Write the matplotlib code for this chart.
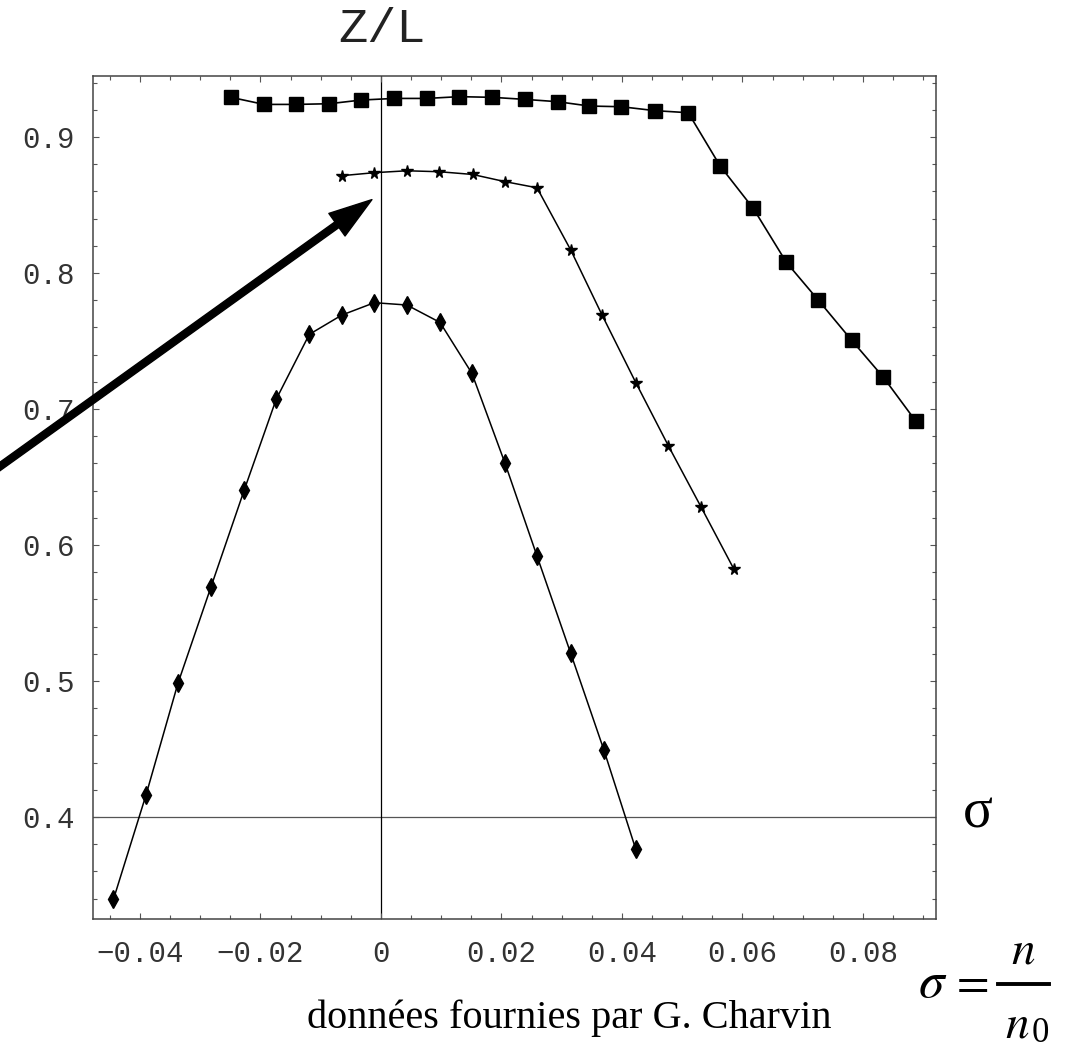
import matplotlib
matplotlib.use("Agg")
import matplotlib.pyplot as plt
from matplotlib.lines import Line2D
from matplotlib.ticker import MultipleLocator

# top series (squares)
sq_x = [-0.0249, -0.0194, -0.0141, -0.0086, -0.0033, 0.0022, 0.0076, 0.0130, 0.0185, 0.0239, 0.0293,
        0.0346, 0.0399, 0.0455, 0.0510, 0.0563, 0.0618, 0.0673, 0.0726, 0.0781, 0.0834, 0.0888]
sq_y = [0.9292, 0.9240, 0.9240, 0.9245, 0.9272, 0.9284, 0.9284, 0.9297, 0.9292, 0.9277, 0.9260,
        0.9228, 0.9223, 0.9194, 0.9179, 0.8787, 0.8475, 0.8078, 0.7800, 0.7507, 0.7233, 0.6909]

# middle series (stars)
st_x = [-0.0065, -0.0011, 0.0043, 0.0097, 0.0152, 0.0206, 0.0259, 0.0315, 0.0367, 0.0423, 0.0477, 0.0531, 0.0586]
st_y = [0.8716, 0.8738, 0.8752, 0.8745, 0.8725, 0.8672, 0.8627, 0.8169, 0.7691, 0.7194, 0.6730, 0.6282, 0.5821]

# bottom series (diamonds)
di_x = [-0.0444, -0.0390, -0.0337, -0.0282, -0.0227, -0.0174, -0.0119, -0.0065, -0.0011,
        0.0043, 0.0098, 0.0151, 0.0206, 0.0259, 0.0315, 0.0370, 0.0423]
di_y = [0.3395, 0.4162, 0.4983, 0.5694, 0.6404, 0.7071, 0.7549, 0.7691, 0.7782,
        0.7765, 0.7637, 0.7262, 0.6600, 0.5919, 0.5203, 0.4493, 0.3762]

xticks = [-0.04, -0.02, 0, 0.02, 0.04, 0.06, 0.08]
xlabels = ["\u22120.04", "\u22120.02", "0", "0.02", "0.04", "0.06", "0.08"]
yticks = [0.4, 0.5, 0.6, 0.7, 0.8, 0.9]
ylabels = ["0.4", "0.5", "0.6", "0.7", "0.8", "0.9"]

arrow_tip = (-0.0015, 0.854)
arrow_tail = (-0.0683, 0.6417)

plt.rcParams['mathtext.fontset'] = 'stix'

W, H = 1070, 1051
fig = plt.figure(figsize=(10.7, 10.51), dpi=100)
ax = fig.add_axes([0.0869, 0.1253, 0.7883, 0.8024])

ax.axhline(0.4, color='#555555', lw=0.9, zorder=1)
ax.axvline(0, color='black', lw=0.9, zorder=1)

ax.plot(sq_x, sq_y, color='black', lw=1.2, marker='s', ms=9.5, zorder=3)
ax.plot(st_x, st_y, color='black', lw=1.1, marker='*', ms=8.5, zorder=3)
ax.plot(di_x, di_y, color='black', lw=1.1, marker='d', ms=9, zorder=3)

ax.set_xlim(-0.0478, 0.0922)
ax.set_ylim(0.3248, 0.9449)

ax.set_xticks(xticks)
ax.set_xticklabels(xlabels)
ax.set_yticks(yticks)
ax.set_yticklabels(ylabels)
ax.xaxis.set_minor_locator(MultipleLocator(0.005))
ax.yaxis.set_minor_locator(MultipleLocator(0.02))
ax.tick_params(which='both', direction='in', top=True, right=True, color='#555555', width=0.8)
ax.tick_params(which='major', length=4.5)
ax.tick_params(which='minor', length=2.6)
ax.tick_params(axis='x', which='major', pad=15)
ax.tick_params(axis='y', which='major', pad=13)
for lab in ax.get_xticklabels() + ax.get_yticklabels():
    lab.set_fontfamily('Liberation Mono')
    lab.set_fontsize(21)
    lab.set_color('#333333')
for sp in ax.spines.values():
    sp.set_color('#444444')
    sp.set_linewidth(1.1)

ax.annotate('', xy=arrow_tip, xytext=arrow_tail, xycoords='data', textcoords='data',
            annotation_clip=False,
            arrowprops=dict(facecolor='black', edgecolor='black', width=5, headwidth=20,
                            headlength=31, shrink=0))

fig.text(0.357, 0.9724, "Z/L", family='Liberation Mono', fontsize=35, color='#222222',
         ha='center', va='center')
fig.text(0.914, 0.2131, "\u03c3", family='Liberation Serif', fontsize=40,
         ha='center', va='baseline')
fig.text(0.532, 0.0219, "données fournies par G. Charvin", family='Liberation Serif',
         fontsize=29, ha='center', va='baseline')

# sigma = n / n0, built piece by piece
fig.text(918 / W, 1 - 997 / H, r"$\sigma$", fontsize=37, ha='left', va='baseline')
fig.text(969 / W, 1 - 983.5 / H, r"$=$", fontsize=34, ha='center', va='center')
fig.add_artist(Line2D([998 / W, 1049 / W], [1 - 984 / H, 1 - 984 / H],
                      color='black', lw=2.8, transform=fig.transFigure))
fig.text(1023 / W, 1 - 963 / H, r"$n$", fontsize=34, ha='center', va='baseline')
fig.text(1017 / W, 1 - 1037 / H, r"$n$", fontsize=34, ha='center', va='baseline')
fig.text(1040 / W, 1 - 1042 / H, "0", family='Liberation Serif', fontsize=25,
         ha='center', va='baseline')

fig.savefig('out.png', dpi=100)
